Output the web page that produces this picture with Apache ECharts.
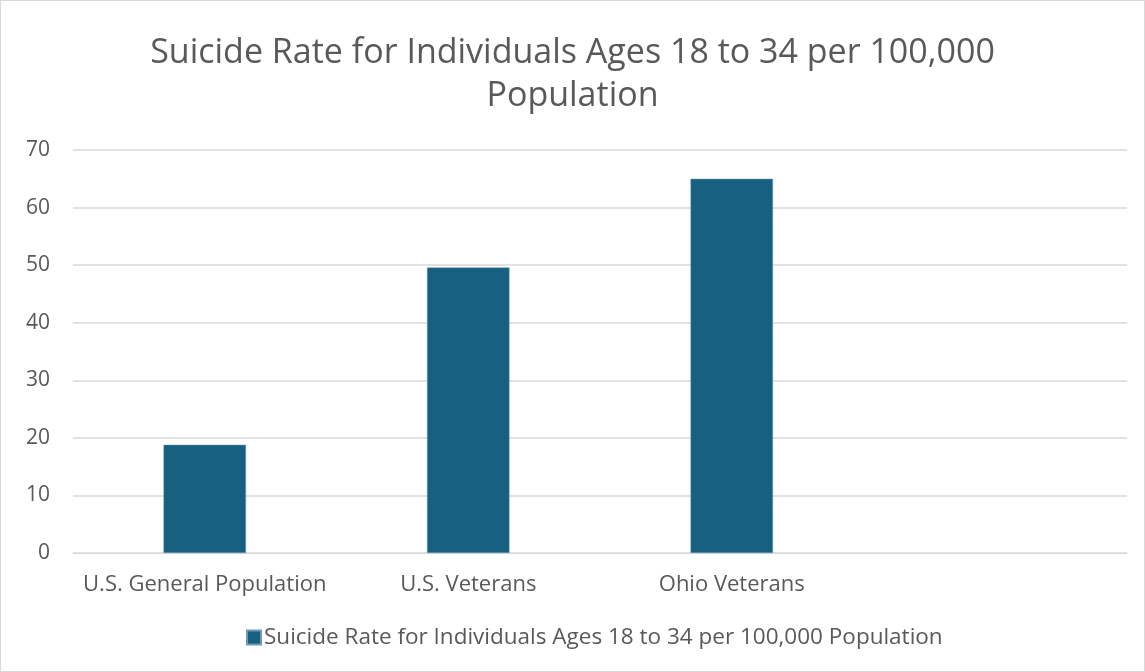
<!DOCTYPE html>
<html><head><meta charset="utf-8">
<script src="https://cdn.jsdelivr.net/npm/echarts@6/dist/echarts.min.js"></script>
<style>html,body{margin:0;padding:0;background:#fff}#c{width:1145px;height:672px;box-sizing:border-box;border:1px solid #d9d9d9}</style>
</head><body><div id="c"></div>
<script>
const categories = ["U.S. General Population", "U.S. Veterans", "Ohio Veterans", ""];
const seriesName = "Suicide Rate for Individuals Ages 18 to 34 per 100,000 Population";
const values = [18.8, 49.6, 65.0, null];
const yTicks = {min: 0, max: 70, interval: 10};

const chart = echarts.init(document.getElementById('c'));
chart.setOption({
  animation: false,
  title: {
    text: "Suicide Rate for Individuals Ages 18 to 34 per 100,000\nPopulation",
    left: 'center', top: 26,
    textStyle: {fontFamily: 'Open Sans', fontWeight: 'normal', fontSize: 34, color: '#595959', lineHeight: 43}
  },
  legend: {
    bottom: 17, left: 240, itemWidth: 14, itemHeight: 14, itemGap: 4,
    icon: 'rect',
    textStyle: {fontFamily: 'Open Sans', fontSize: 22.5, color: '#595959', padding: [0, 0, 0, -2]},
    data: [seriesName]
  },
  grid: {left: 72, right: 17, top: 149, bottom: 118},
  xAxis: {
    type: 'category', data: categories,
    axisLine: {show: true, lineStyle: {color: '#d9d9d9'}},
    axisTick: {show: false},
    axisLabel: {fontFamily: 'Open Sans', fontSize: 22, color: '#595959', margin: 21, interval: 0}
  },
  yAxis: {
    type: 'value', min: yTicks.min, max: yTicks.max, interval: yTicks.interval,
    axisLine: {show: false}, axisTick: {show: false},
    splitLine: {lineStyle: {color: '#d9d9d9', width: 1.5}},
    axisLabel: {fontFamily: 'Open Sans', fontSize: 21, color: '#595959', margin: 23}
  },
  series: [{
    name: seriesName, type: 'bar', data: values, barWidth: '31.3%',
    itemStyle: {color: '#17607f', borderColor: '#6f9ab0', borderWidth: 0.5}
  }]
});
</script></body></html>
